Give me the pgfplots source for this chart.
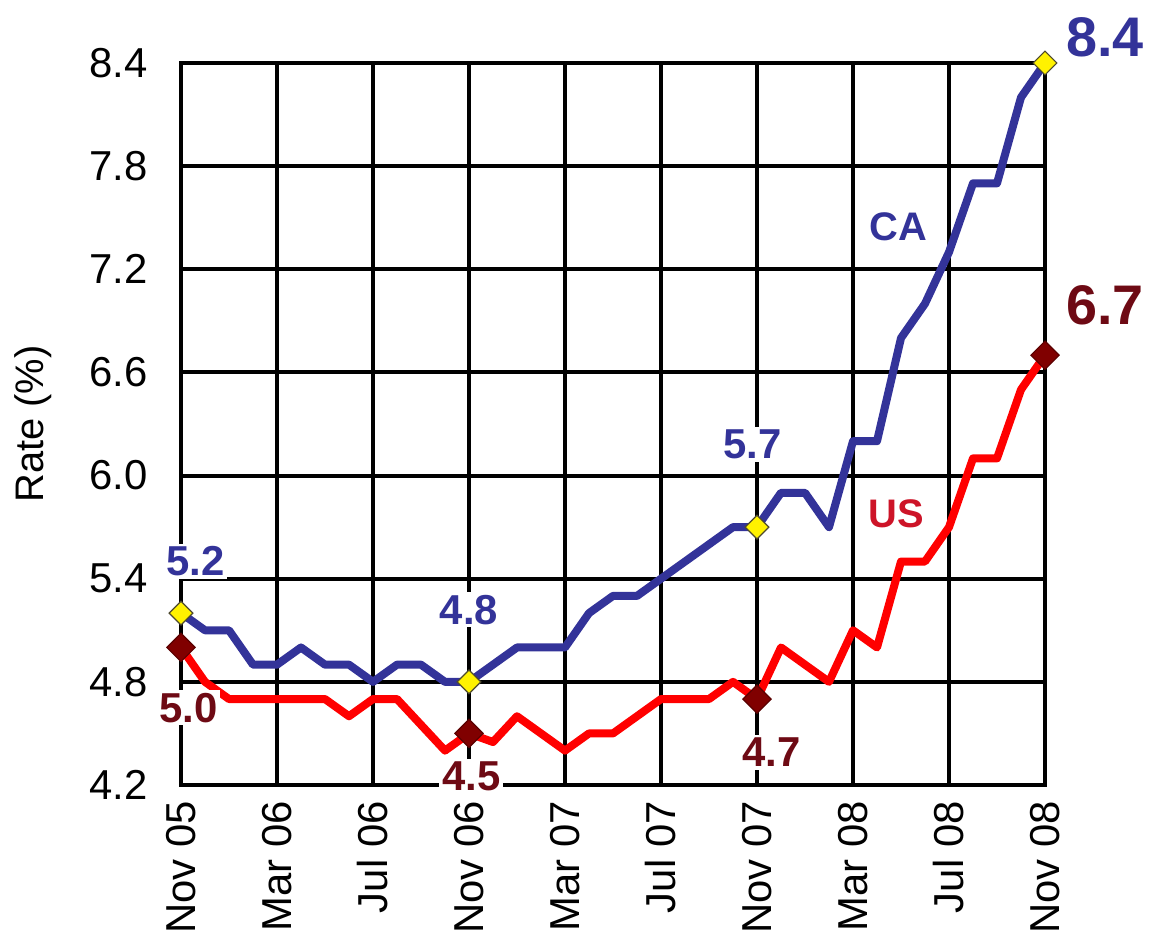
\documentclass[border=0pt]{standalone}
\usepackage{fontspec}
\setmainfont{Liberation Sans}
\usepackage{pgfplots}
\pgfplotsset{compat=1.18}
\definecolor{cablue}{RGB}{51,51,153}
\definecolor{usred}{RGB}{255,0,0}
\definecolor{usdark}{RGB}{128,0,0}
\definecolor{uslabel}{RGB}{110,10,20}
\definecolor{ustext}{RGB}{205,20,40}
\begin{document}
\begin{tikzpicture}
\useasboundingbox (-90.5bp,-77.5bp) rectangle (485bp,392.5bp);
\begin{axis}[
  at={(0,0)}, anchor=south west,
  scale only axis, width=432bp, height=361bp,
  xmin=0, xmax=36, ymin=4.2, ymax=8.4,
  clip=false,
  xtick={0,4,8,12,16,20,24,28,32,36},
  xticklabels={Nov 05,Mar 06,Jul 06,Nov 06,Mar 07,Jul 07,Nov 07,Mar 08,Jul 08,Nov 08},
  ytick={4.2,4.8,5.4,6.0,6.6,7.2,7.8,8.4},
  yticklabels={4.2,4.8,5.4,6.0,6.6,7.2,7.8,8.4},
  /pgf/number format/assume math mode=true,
  tick label style={font=\fontsize{21}{25}\selectfont},
  xticklabel style={rotate=90, anchor=east, inner sep=0pt},
  xticklabel shift=8bp,
  yticklabel style={anchor=east, inner sep=0pt},
  yticklabel shift=16.5bp,
  tick style={draw=none},
  grid=major,
  major grid style={black, line width=2bp},
  axis line style={black, line width=2bp},
  ylabel={Rate (\%)},
  ylabel style={font=\fontsize{20}{24}\selectfont, at={(axis description cs:-0.1713,0.5)}, anchor=center},
]
% California
\addplot[cablue, line width=4bp, line join=round, mark=none] coordinates {
(0,5.2)(1,5.1)(2,5.1)(3,4.9)(4,4.9)(5,5.0)(6,4.9)(7,4.9)(8,4.8)(9,4.9)(10,4.9)(11,4.8)
(12,4.8)(13,4.9)(14,5.0)(15,5.0)(16,5.0)(17,5.2)(18,5.3)(19,5.3)(20,5.4)(21,5.5)(22,5.6)(23,5.7)
(24,5.7)(25,5.9)(26,5.9)(27,5.7)(28,6.2)(29,6.2)(30,6.8)(31,7.0)(32,7.3)(33,7.7)(34,7.7)(35,8.2)(36,8.4)
};
% United States
\addplot[usred, line width=4bp, line join=round, mark=none] coordinates {
(0,5.0)(1,4.8)(2,4.7)(3,4.7)(4,4.7)(5,4.7)(6,4.7)(7,4.6)(8,4.7)(9,4.7)(10,4.55)(11,4.4)
(12,4.5)(13,4.45)(14,4.6)(15,4.5)(16,4.4)(17,4.5)(18,4.5)(19,4.6)(20,4.7)(21,4.7)(22,4.7)(23,4.8)
(24,4.7)(25,5.0)(26,4.9)(27,4.8)(28,5.1)(29,5.0)(30,5.5)(31,5.5)(32,5.7)(33,6.1)(34,6.1)(35,6.5)(36,6.7)
};
\addplot[only marks, mark=square*, mark size=4.2bp,
  mark options={fill=yellow, draw=black!60!olive, line width=0.6bp, rotate=45}]
  coordinates {(0,5.2)(12,4.8)(24,5.7)(36,8.4)};
\addplot[only marks, mark=square*, mark size=5bp,
  mark options={fill=usdark, draw=usdark!70!black, line width=0.6bp, rotate=45}]
  coordinates {(0,5.0)(12,4.5)(24,4.7)(36,6.7)};
% labels
\tikzset{lab/.style={font=\bfseries\fontsize{21}{25}\selectfont, fill=white, inner sep=1.5bp}}
\node[lab, text=cablue] at (axis cs:0.6,5.5) {5.2};
\node[lab, text=cablue] at (axis cs:12,5.22) {4.8};
\node[lab, text=cablue] at (axis cs:23.8,6.18) {5.7};
\node[lab, text=cablue, font=\bfseries\fontsize{28}{32}\selectfont] at (axis cs:38.5,8.55) {8.4};
\node[lab, text=uslabel] at (axis cs:0.3,4.65) {5.0};
\node[lab, text=uslabel] at (axis cs:12.1,4.25) {4.5};
\node[lab, text=uslabel] at (axis cs:24.6,4.39) {4.7};
\node[lab, text=uslabel, font=\bfseries\fontsize{28}{32}\selectfont] at (axis cs:38.5,6.99) {6.7};
\node[font=\bfseries\fontsize{20}{24}\selectfont, text=cablue] at (axis cs:29.9,7.45) {CA};
\node[font=\bfseries\fontsize{20}{24}\selectfont, text=ustext] at (axis cs:29.8,5.78) {US};
\end{axis}
\end{tikzpicture}
\end{document}
